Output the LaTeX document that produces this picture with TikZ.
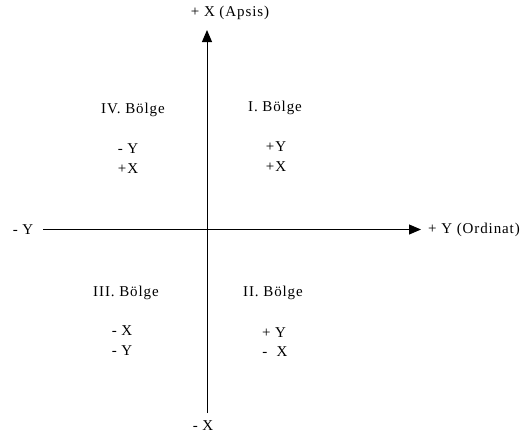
\documentclass[tikz,border=0pt]{standalone}
\usepackage{fontspec}
\setmainfont[LetterSpace=6]{Liberation Serif}
\usetikzlibrary{arrows.meta}
\begin{document}
\begin{tikzpicture}[x=1pt,y=-1pt,
  axis/.style={line width=1pt,-{Triangle[length=12pt,width=10pt]}},
  lbl/.style={font=\fontsize{15}{17}\selectfont,inner sep=0pt}]
\useasboundingbox (0,0) rectangle (527,437);
% the two axes
\coordinate (yTop) at (207,30);
\coordinate (yBot) at (207,413);
\coordinate (xLeft) at (43,229.5);
\coordinate (xRight) at (421,229.5);
\draw[axis] (yBot) -- (yTop);
\draw[axis] (xLeft) -- (xRight);
% axis ends
\node[lbl] (apsis) at (230,13) {+ X (Apsis)};
\node[lbl] (negX) at (203,426) {- X};
\node[lbl] (negY) at (23,229.5) {- Y};
\node[lbl,anchor=west] (ordinat) at (428,229.5) {+ Y (Ordinat)};
% the four regions
\node[lbl] (q4) at (133,110) {IV. Bölge};
\node[lbl] (q4a) at (128,149) {- Y};
\node[lbl] (q4b) at (128,169) {+X};
\node[lbl] (q1) at (275,108) {I. Bölge};
\node[lbl] (q1a) at (276,147) {+Y};
\node[lbl] (q1b) at (276,167) {+X};
\node[lbl] (q3) at (126,293) {III. Bölge};
\node[lbl] (q3a) at (122,331) {- X};
\node[lbl] (q3b) at (122,351) {- Y};
\node[lbl] (q2) at (273,293) {II. Bölge};
\node[lbl] (q2a) at (274,333) {+ Y};
\node[lbl] (q2b) at (275,352) {-\ \ X};
\end{tikzpicture}
\end{document}
